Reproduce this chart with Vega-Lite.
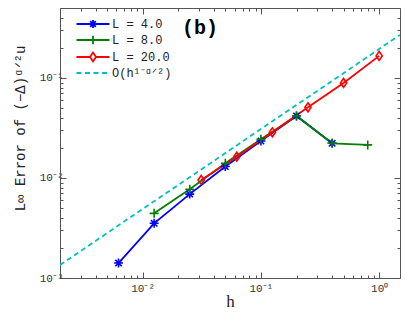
{
  "$schema": "https://vega.github.io/schema/vega-lite/v6.json",
  "width": 340,
  "height": 270,
  "autosize": {"type": "none"},
  "padding": {"left": 60, "top": 8, "right": 5, "bottom": 35},
  "background": "white",
  "config": {
    "view": {"stroke": "#555", "strokeWidth": 1},
    "axis": {"grid": false, "domainColor": "#555", "tickColor": "#555", "labelFont": "Liberation Mono", "labelFontSize": 11, "labelColor": "#333", "titleColor": "#222"}
  },
  "datasets": {
    "series": [
      {"s": "L = 4.0", "h": 0.00625, "e": 0.00141},
      {"s": "L = 4.0", "h": 0.0125, "e": 0.00352},
      {"s": "L = 4.0", "h": 0.025, "e": 0.0069},
      {"s": "L = 4.0", "h": 0.05, "e": 0.013},
      {"s": "L = 4.0", "h": 0.1, "e": 0.0234},
      {"s": "L = 4.0", "h": 0.2, "e": 0.0417},
      {"s": "L = 4.0", "h": 0.4, "e": 0.0222},
      {"s": "L = 8.0", "h": 0.0125, "e": 0.00443},
      {"s": "L = 8.0", "h": 0.025, "e": 0.0077},
      {"s": "L = 8.0", "h": 0.05, "e": 0.014},
      {"s": "L = 8.0", "h": 0.1, "e": 0.0244},
      {"s": "L = 8.0", "h": 0.2, "e": 0.0417},
      {"s": "L = 8.0", "h": 0.4, "e": 0.0222},
      {"s": "L = 8.0", "h": 0.8, "e": 0.0214},
      {"s": "L = 20.0", "h": 0.03125, "e": 0.00955},
      {"s": "L = 20.0", "h": 0.0625, "e": 0.0163},
      {"s": "L = 20.0", "h": 0.125, "e": 0.0286},
      {"s": "L = 20.0", "h": 0.25, "e": 0.0509},
      {"s": "L = 20.0", "h": 0.5, "e": 0.089},
      {"s": "L = 20.0", "h": 1.0, "e": 0.166}
    ],
    "theory": [
      {"s": "O(h¹⁻ᵅᐟ²)", "h": 0.002, "e": 0.00135},
      {"s": "O(h¹⁻ᵅᐟ²)", "h": 1.5, "e": 0.269}
    ],
    "note": [{"label": "(b)"}]
  },
  "layer": [
    {
      "data": {"name": "theory"},
      "mark": {"type": "line", "strokeDash": [5, 3.5], "strokeWidth": 1.8, "clip": true},
      "encoding": {
        "x": {"field": "h", "type": "quantitative",
          "scale": {"type": "log", "domain": [0.002, 1.5], "nice": false},
          "axis": {"orient": "bottom", "title": "h", "titleFont": "Liberation Serif", "titleFontSize": 17, "titleFontWeight": "normal", "titlePadding": -3,
            "values": [0.002,0.003,0.004,0.005,0.006,0.007,0.008,0.009,0.01,0.02,0.03,0.04,0.05,0.06,0.07,0.08,0.09,0.1,0.2,0.3,0.4,0.5,0.6,0.7,0.8,0.9,1],
            "labelExpr": "datum.value == 0.01 ? '10⁻²' : datum.value == 0.1 ? '10⁻¹' : datum.value == 1 ? '10⁰' : ''",
            "tickSize": {"condition": {"test": "indexof([0.001,0.01,0.1,1], datum.value) >= 0", "value": -6}, "value": -3},
            "labelPadding": 10, "labelFlush": false, "labelOverlap": false}},
        "y": {"field": "e", "type": "quantitative",
          "scale": {"type": "log", "domain": [0.001, 0.5], "nice": false},
          "axis": {"orient": "left", "title": "L∞ Error of (−Δ)ᵅᐟ²u", "titleFont": "Liberation Mono", "titleFontSize": 14, "titleFontWeight": "normal",
            "titleX": -33, "titleY": 120, "titleAngle": -90, "titleBaseline": "bottom", "titleAlign": "center",
            "values": [0.001,0.002,0.003,0.004,0.005,0.006,0.007,0.008,0.009,0.01,0.02,0.03,0.04,0.05,0.06,0.07,0.08,0.09,0.1,0.2,0.3,0.4,0.5],
            "labelExpr": "datum.value == 0.001 ? '10⁻³' : datum.value == 0.01 ? '10⁻²' : datum.value == 0.1 ? '10⁻¹' : ''",
            "tickSize": {"condition": {"test": "indexof([0.001,0.01,0.1,1], datum.value) >= 0", "value": -6}, "value": -3},
            "labelPadding": 3, "labelOverlap": false, "labelFlush": false}},
        "color": {"field": "s", "type": "nominal",
          "scale": {"domain": ["L = 4.0", "L = 8.0", "L = 20.0", "O(h¹⁻ᵅᐟ²)"], "range": ["#0000ff", "#007f00", "#ff0000", "#00bfbf"]},
          "legend": {"orient": "none", "legendX": 17, "legendY": 9, "title": null, "padding": 0,
            "labelFont": "Liberation Mono", "labelFontSize": 12, "labelColor": "#222", "labelOffset": 12, "rowPadding": 0,
            "symbolSize": 144, "symbolStrokeWidth": 1.8, "symbolOffset": 9,
            "encode": {"symbols": {"update": {
              "fill": {"value": "transparent"},
              "shape": {"signal": "datum.value == 'L = 4.0' ? 'M-2.75,0H2.75M-0.66,0H0.66M0,-0.66V0.66M-0.47,-0.47L0.47,0.47M-0.47,0.47L0.47,-0.47' : datum.value == 'L = 8.0' ? 'M-2.75,0H2.75M0,-0.72V0.72' : datum.value == 'L = 20.0' ? 'M-2.75,0H-0.5M0.5,0H2.75M0,-0.75L0.5,0L0,0.75L-0.5,0Z' : 'M-2.75,0H-1.92M-1.33,0H-0.5M0.08,0H0.92M1.5,0H2.33'"}
            }}}}}
      }
    },
    {
      "data": {"name": "series"},
      "mark": {"type": "line", "strokeWidth": 1.8, "clip": true},
      "encoding": {
        "x": {"field": "h", "type": "quantitative", "axis": {"orient": "top", "labels": false, "title": null, "domain": false,
            "values": [0.002,0.003,0.004,0.005,0.006,0.007,0.008,0.009,0.01,0.02,0.03,0.04,0.05,0.06,0.07,0.08,0.09,0.1,0.2,0.3,0.4,0.5,0.6,0.7,0.8,0.9,1],
            "tickSize": {"condition": {"test": "indexof([0.001,0.01,0.1,1], datum.value) >= 0", "value": -6}, "value": -3}}},
        "y": {"field": "e", "type": "quantitative", "axis": {"orient": "right", "labels": false, "title": null, "domain": false,
            "values": [0.001,0.002,0.003,0.004,0.005,0.006,0.007,0.008,0.009,0.01,0.02,0.03,0.04,0.05,0.06,0.07,0.08,0.09,0.1,0.2,0.3,0.4,0.5],
            "tickSize": {"condition": {"test": "indexof([0.001,0.01,0.1,1], datum.value) >= 0", "value": -6}, "value": -3}}},
        "color": {"field": "s", "type": "nominal"},
        "order": {"field": "h"}
      }
    },
    {
      "data": {"name": "series"},
      "mark": {"type": "point", "filled": false, "strokeWidth": 1.6, "opacity": 1, "clip": true},
      "encoding": {
        "x": {"field": "h", "type": "quantitative", "axis": null},
        "y": {"field": "e", "type": "quantitative", "axis": null},
        "color": {"field": "s", "type": "nominal"},
        "shape": {"field": "s", "type": "nominal", "legend": null,
          "scale": {"domain": ["L = 4.0", "L = 8.0", "L = 20.0"], "range": [
            "M-1,0H1M0,-1V1M-0.72,-0.72L0.72,0.72M-0.72,0.72L0.72,-0.72",
            "M-1,0H1M0,-1V1",
            "M0,-1L0.7,0L0,1L-0.7,0Z"]}},
        "size": {"value": 80}
      }
    },
    {
      "data": {"name": "note"},
      "mark": {"type": "text", "font": "Liberation Mono", "fontWeight": "bold", "fontSize": 20, "align": "left", "baseline": "middle", "color": "black"},
      "encoding": {
        "text": {"field": "label"},
        "x": {"datum": 0.0215, "type": "quantitative", "axis": null},
        "y": {"datum": 0.315, "type": "quantitative", "axis": null}
      }
    }
  ]
}
